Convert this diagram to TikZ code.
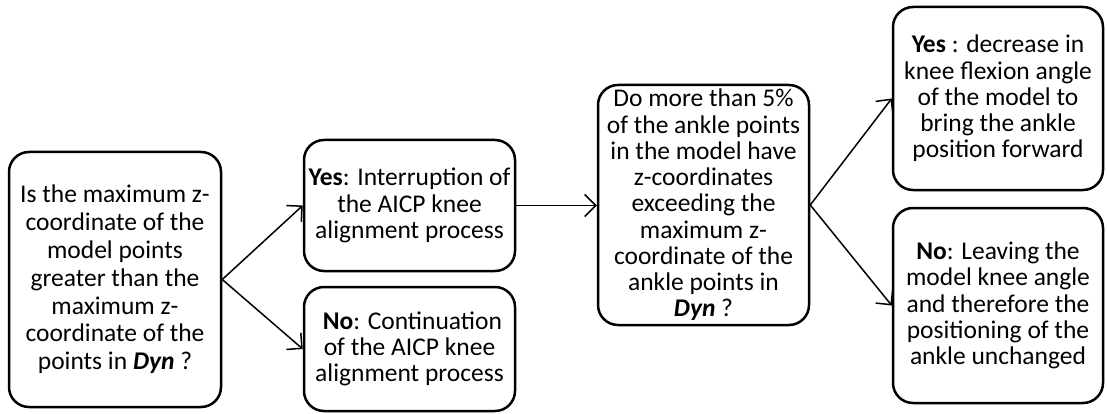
\documentclass[tikz,border=0pt]{standalone}
\usepackage{fontspec}
\setmainfont{Carlito}
\usetikzlibrary{arrows.meta}
\tikzset{
  box/.style={draw=black, line width=2.5pt, rounded corners=20pt, align=center, inner sep=0pt,
    font=\fontsize{25.5}{26.25}\selectfont},
  conn/.style={line width=1.5pt, -{Straight Barb[length=11pt,width=22pt,line width=1.5pt]}}
}
\begin{document}
\begin{tikzpicture}[x=1pt,y=-1pt]
\useasboundingbox (0,0) rectangle (1107,414);
\node[box, minimum width=212pt, minimum height=255pt, font=\fontsize{25.5}{27.8}\selectfont] (q1) at (115,279.5)
  {Is the maximum z-\\coordinate of the\\model points\\greater than the\\maximum z-\\coordinate of the\\points in \textbf{\textit{Dyn}} ?};
\node[box, minimum width=211pt, minimum height=131pt] (yes1) at (409.5,205.5)
  {\textbf{Yes}: Interruption of\\the AICP knee\\alignment process};
\node[box, minimum width=211pt, minimum height=124pt] (no1) at (409.5,349)
  {\ \textbf{No}: Continuation\\of the AICP knee\\alignment process};
\node[box, minimum width=211pt, minimum height=240pt] (q2) at (703.5,205)
  {Do more than 5\%\\of the ankle points\\in the model have\\z-coordinates\\exceeding the\\maximum z-\\coordinate of the\\ankle points in\\\textbf{\textit{Dyn}} ?};
\node[box, minimum width=210pt, minimum height=183pt] (yes2) at (998,98.5)
  {\textbf{Yes} : decrease in\\knee flexion angle\\of the model to\\bring the ankle\\position forward};
\node[box, minimum width=210pt, minimum height=195pt] (no2) at (998,305.5)
  {\textbf{No}: Leaving the\\model knee angle\\and therefore the\\positioning of the\\ankle unchanged};
\draw[conn] (q1.east) -- (yes1.west);
\draw[conn] (q1.east) -- (no1.west);
\draw[conn] (yes1.east) -- (q2.west |- yes1.east);
\draw[conn] (q2.east) -- (yes2.west);
\draw[conn] (q2.east) -- (no2.west);
\end{tikzpicture}
\end{document}
